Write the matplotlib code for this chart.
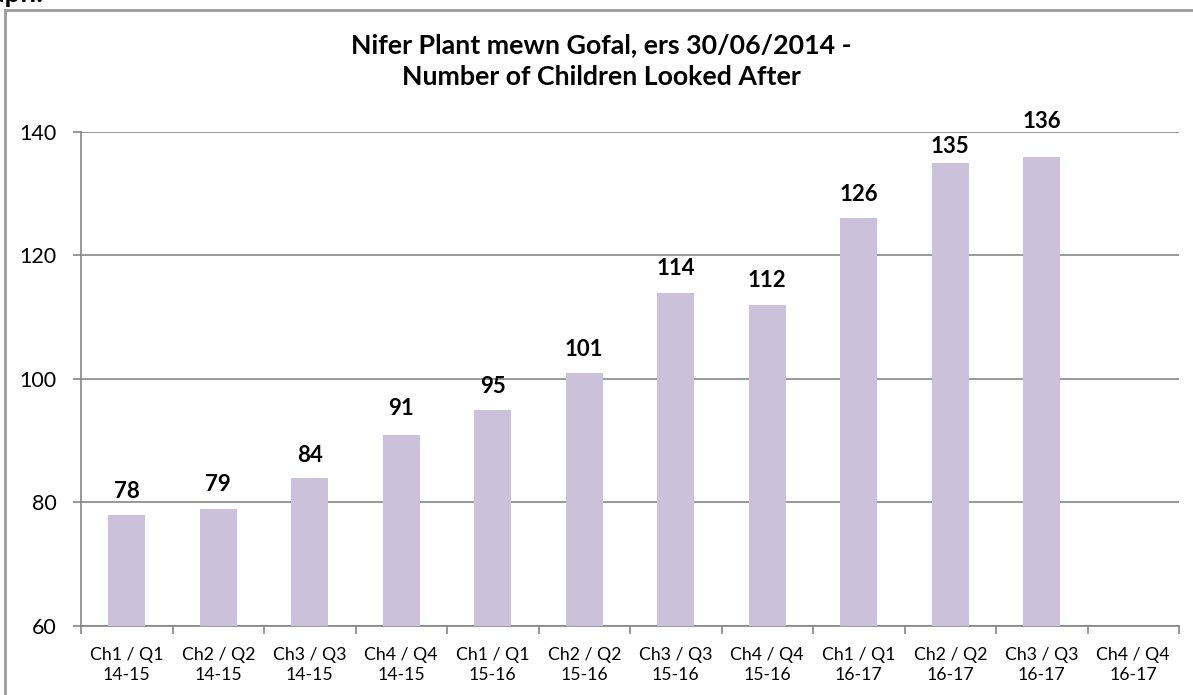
import matplotlib.pyplot as plt
from matplotlib.patches import Rectangle

plt.rcParams['font.family'] = ['Lato', 'DejaVu Sans']

# quarter labels and values
quarters = ["Ch1 / Q1\n14-15", "Ch2 / Q2\n14-15", "Ch3 / Q3\n14-15", "Ch4 / Q4\n14-15",
            "Ch1 / Q1\n15-16", "Ch2 / Q2\n15-16", "Ch3 / Q3\n15-16", "Ch4 / Q4\n15-16",
            "Ch1 / Q1\n16-17", "Ch2 / Q2\n16-17", "Ch3 / Q3\n16-17", "Ch4 / Q4\n16-17"]
children = [78, 79, 84, 91, 95, 101, 114, 112, 126, 135, 136, None]
y_ticks = [60, 80, 100, 120, 140]

# gap (px) between bar top and its label, labels were hand-placed in the original
label_gap = [17, 18, 16, 20, 17, 17, 18, 18, 17, 10, 29, 0]

W, H = 1193, 695
fig = plt.figure(figsize=(W / 100, H / 100), dpi=100)

# chart border and cut-off heading above it
fig.patches.append(Rectangle((5 / W, -0.1), 1.2, (H - 10) / H + 0.1, transform=fig.transFigure,
                             fill=False, edgecolor="#9a9a9a", linewidth=2))
fig.text(43 / W, 1 - 2 / H, "Graph:", ha="right", va="baseline", fontsize=20, fontweight="bold")

ax = fig.add_axes([81 / W, (H - 626) / H, 1098 / W, 494 / H])

x = list(range(len(quarters)))
vals = [v if v is not None else 0 for v in children]
ax.bar(x, vals, width=0.4, color="#CCC1DA", zorder=3)
for xi, v, g in zip(x, children, label_gap):
    if v is not None:
        ax.annotate(str(v), (xi, v), xytext=(0, g * 0.72), textcoords="offset points",
                    ha="center", va="baseline", fontsize=16, fontweight="bold")

ax.set_xlim(-0.5, len(quarters) - 0.5)
ax.set_ylim(60, 140)
ax.set_yticks(y_ticks)
ax.yaxis.grid(True, color="#868686", linewidth=1.2, zorder=0)
ax.tick_params(axis="y", labelsize=15.5, length=6, width=1.2, color="#868686", pad=11.5)

ax.set_xticks(x)
ax.set_xticklabels(quarters, fontsize=12.7, linespacing=1.3)
ax.set_xticks([i - 0.5 for i in range(len(quarters) + 1)], minor=True)
ax.tick_params(axis="x", which="major", length=0, pad=15)
ax.tick_params(axis="x", which="minor", length=6, width=1.2, color="#868686")

for s in ["top", "right"]:
    ax.spines[s].set_visible(False)
for s in ["left", "bottom"]:
    ax.spines[s].set_color("#868686")
    ax.spines[s].set_linewidth(1.2)

fig.text(601 / W, 1 - 61 / H, "Nifer Plant mewn Gofal, ers 30/06/2014 -\nNumber of Children Looked After",
         ha="center", va="center", fontsize=19.3, fontweight="bold", linespacing=1.4)

fig.savefig("out.png", dpi=100)
